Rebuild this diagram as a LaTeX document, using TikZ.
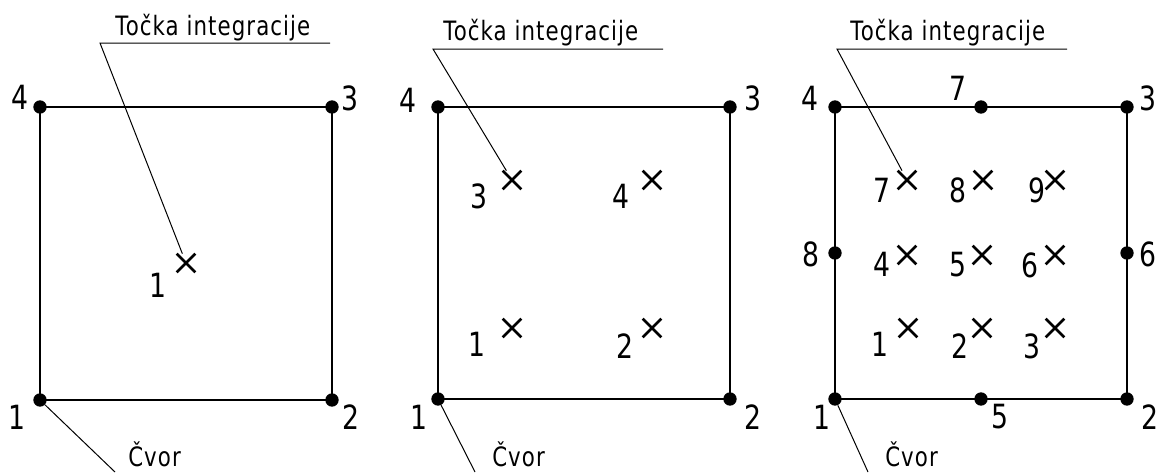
\documentclass[tikz,border=0pt]{standalone}
\usepackage{fontspec}
\setmainfont{DejaVu Sans}[FakeStretch=0.8]
\newfontfamily\spacedfont{DejaVu Sans}[FakeStretch=0.8,LetterSpace=4]
\usetikzlibrary{shapes.misc}
\begin{document}
\begin{tikzpicture}[x=0.75pt,y=-0.75pt,
  dot/.style={circle,fill=black,inner sep=0pt,minimum size=10pt},
  ip/.style={cross out,draw=black,line width=2pt,inner sep=0pt,minimum size=12pt},
  num/.style={inner sep=0pt,anchor=center,font=\fontsize{25}{25}\selectfont},
  txt/.style={inner sep=0pt,anchor=base west,font=\spacedfont\fontsize{20}{20}\selectfont},
  edge/.style={line width=1.7pt},
  leader/.style={line width=0.75pt}]
\path[use as bounding box,fill=white] (0,0) rectangle (1159,472);

% ---------- Panel 1 ----------
\node[dot] (a1) at (40,400) {};
\node[dot] (a2) at (332,400) {};
\node[dot] (a3) at (332,107) {};
\node[dot] (a4) at (40,107) {};
\draw[edge] (a1.center) -- (a2.center) -- (a3.center) -- (a4.center) -- cycle;
\node[num] (la1) at (17,417) {1};
\node[num] (la2) at (351,417) {2};
\node[num] (la3) at (350,98) {3};
\node[num] (la4) at (20,97) {4};
\node[ip] (ax1) at (186,263) {};
\node[num] (lax1) at (158,285) {1};
\node[txt] (ta) at (115,35) {Točka integracije};
\coordinate (ua) at (100,43);
\coordinate (ub) at (330,43);
\draw[leader] (ub) -- (ua) -- (ax1);
\node[txt] (ca) at (128,466) {Čvor};
\coordinate (cca) at (115,472);
\draw[leader] (a1) -- (cca);

% ---------- Panel 2 ----------
\node[dot] (b1) at (438,399) {};
\node[dot] (b2) at (730,399) {};
\node[dot] (b3) at (730,107) {};
\node[dot] (b4) at (438,107) {};
\draw[edge] (b1.center) -- (b2.center) -- (b3.center) -- (b4.center) -- cycle;
\node[num] (lb1) at (419,417) {1};
\node[num] (lb2) at (753,417) {2};
\node[num] (lb3) at (753,98) {3};
\node[num] (lb4) at (408,100) {4};
\node[ip] (bx1) at (512,328) {};
\node[ip] (bx2) at (652,328) {};
\node[ip] (bx3) at (512,180) {};
\node[ip] (bx4) at (652,180) {};
\node[num] (lbx1) at (477,344) {1};
\node[num] (lbx2) at (625,346) {2};
\node[num] (lbx3) at (479,196) {3};
\node[num] (lbx4) at (621,196) {4};
\node[txt] (tb) at (443,40) {Točka integracije};
\coordinate (va) at (433,49);
\coordinate (vb) at (663,49);
\draw[leader] (vb) -- (va) -- (bx3);
\node[txt] (cb) at (492,466) {Čvor};
\coordinate (ccb) at (475,472);
\draw[leader] (b1) -- (ccb);

% ---------- Panel 3 ----------
\node[dot] (c1) at (835,399) {};
\node[dot] (c2) at (1127,399) {};
\node[dot] (c3) at (1127,107) {};
\node[dot] (c4) at (835,107) {};
\node[dot] (c5) at (981,399) {};
\node[dot] (c6) at (1127,253) {};
\node[dot] (c7) at (981,107) {};
\node[dot] (c8) at (835,253) {};
\draw[edge] (c1.center) -- (c5.center) -- (c2.center) -- (c6.center) -- (c3.center) -- (c7.center) -- (c4.center) -- (c8.center) -- cycle;
\node[num] (lc1) at (822,417) {1};
\node[num] (lc2) at (1150,417) {2};
\node[num] (lc3) at (1148,98) {3};
\node[num] (lc4) at (810,98) {4};
\node[num] (lc5) at (1000,417) {5};
\node[num] (lc6) at (1148,254) {6};
\node[num] (lc7) at (958,88) {7};
\node[num] (lc8) at (811,254) {8};
\node[ip] (cx1) at (908,328) {};
\node[ip] (cx2) at (982,328) {};
\node[ip] (cx3) at (1055,328) {};
\node[ip] (cx4) at (907,255) {};
\node[ip] (cx5) at (982,255) {};
\node[ip] (cx6) at (1055,255) {};
\node[ip] (cx7) at (907,180) {};
\node[ip] (cx8) at (983,180) {};
\node[ip] (cx9) at (1055,180) {};
\node[num] (lcx1) at (880,344) {1};
\node[num] (lcx2) at (960,346) {2};
\node[num] (lcx3) at (1032,346) {3};
\node[num] (lcx4) at (882,264) {4};
\node[num] (lcx5) at (958,265) {5};
\node[num] (lcx6) at (1030,265) {6};
\node[num] (lcx7) at (882,190) {7};
\node[num] (lcx8) at (958,190) {8};
\node[num] (lcx9) at (1037,190) {9};
\node[txt] (tc) at (850,40) {Točka integracije};
\coordinate (wa) at (837,49);
\coordinate (wb) at (1067,49);
\draw[leader] (wb) -- (wa) -- (cx7);
\node[txt] (cc) at (885,466) {Čvor};
\coordinate (ccc) at (868,472);
\draw[leader] (c1) -- (ccc);
\end{tikzpicture}
\end{document}
